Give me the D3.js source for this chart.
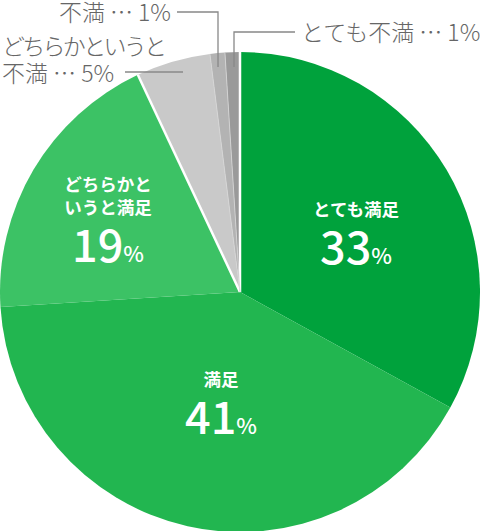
<!DOCTYPE html>
<meta charset="utf-8">
<style>
  body { margin: 0; background: #fff; }
  svg { display: block; font-family: "Noto Sans CJK JP", "Noto Sans", sans-serif; }
  .out { fill: #666; font-size: 23px; font-weight: 300; }
  .lead { fill: none; stroke: #888; stroke-width: 1.3; }
  .cat { fill: #fff; font-size: 17.5px; font-weight: 700; text-anchor: middle; }
  .num { fill: #fff; font-size: 45px; font-weight: 500; text-anchor: middle; }
</style>
<body>
<svg width="480" height="531"></svg>
<script src="https://cdn.jsdelivr.net/npm/d3@7"></script>
<script>

var categories = ["とても満足", "満足", "どちらかというと満足", "どちらかというと不満", "不満", "とても不満"];
var values = [33, 41, 19, 5, 1, 1];
var colors = ["#00a23c", "#22b650", "#3cc265", "#c9c9c9", "#b3b3b3", "#9a9a9a"];

var svg = d3.select("svg");
var cx = 240, cy = 292, r = 240;

var pie = d3.pie().sort(null).value(function(d) { return d; });
var arcs = pie(values);
var arc = d3.arc().innerRadius(0).outerRadius(r);

var g = svg.append("g").attr("transform", "translate(" + cx + "," + cy + ")");

g.selectAll("path.slice")
  .data(arcs)
  .enter().append("path")
  .attr("class", "slice")
  .attr("d", arc)
  .attr("fill", function(d, i) { return colors[i]; });

// white edges around the grey group
var greyStart = arcs[3].startAngle, greyEnd = arcs[5].endAngle;
[greyStart, greyEnd].forEach(function(a) {
  g.append("line")
    .attr("x1", 0).attr("y1", 0)
    .attr("x2", r * Math.sin(a)).attr("y2", -r * Math.cos(a))
    .attr("stroke", "#fff").attr("stroke-width", 2.5);
});
// faint lines between grey pieces
[arcs[4].startAngle, arcs[5].startAngle].forEach(function(a) {
  g.append("line")
    .attr("x1", 0).attr("y1", 0)
    .attr("x2", r * Math.sin(a)).attr("y2", -r * Math.cos(a))
    .attr("stroke", "#d8d8d8").attr("stroke-width", 0.8);
});

// labels inside green slices
function inner(lines, x, y, v) {
  var t = svg.append("g");
  lines.forEach(function(s, i) {
    t.append("text").attr("class", "cat").attr("x", x).attr("y", y + i * 23).text(s);
  });
  var n = t.append("text").attr("class", "num").attr("x", x).attr("y", y + (lines.length - 1) * 23 + 48);
  n.append("tspan").text(v);
  n.append("tspan").attr("font-size", 22).attr("font-weight", 500).text("%");
}
inner(["とても満足"], 356, 216, values[0]);
inner(["満足"], 221, 386, values[1]);
inner(["どちらかと", "いうと満足"], 108, 191, values[2]);

// outside labels
svg.append("text").attr("class", "out").attr("x", 171).attr("y", 21)
  .attr("text-anchor", "end").text("不満 … " + values[4] + "%");
svg.append("text").attr("class", "out").attr("x", 2).attr("y", 55)
  .attr("textLength", 165).attr("lengthAdjust", "spacing").text("どちらかというと");
svg.append("text").attr("class", "out").attr("x", 2).attr("y", 82).text("不満 … " + values[3] + "%");
svg.append("text").attr("class", "out").attr("x", 301).attr("y", 41).text("とても不満 … " + values[5] + "%");

svg.append("path").attr("class", "lead").attr("d", "M177,12H218V67");
svg.append("path").attr("class", "lead").attr("d", "M295,32H234V67");
svg.append("path").attr("class", "lead").attr("d", "M125,72H183");

</script>
</body>
